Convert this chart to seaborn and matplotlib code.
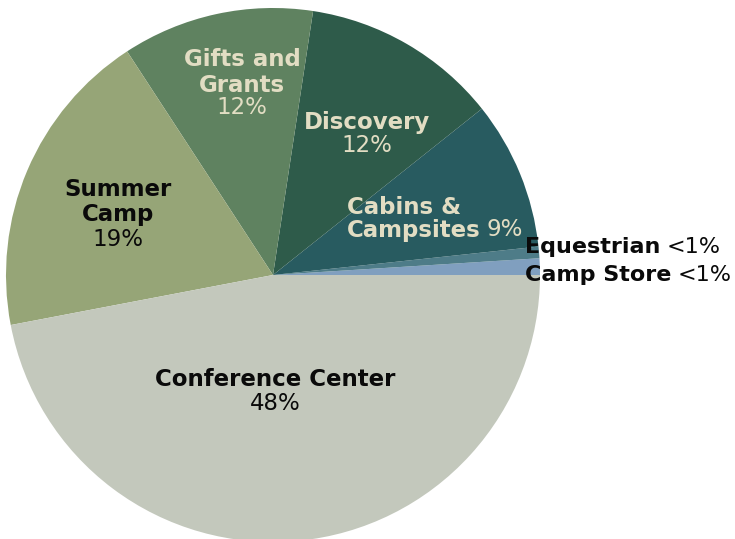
import matplotlib
matplotlib.use("Agg")
import matplotlib.pyplot as plt
import seaborn as sns

# slices, counter-clockwise from 3 o'clock
categories = ["Camp Store", "Equestrian", "Cabins & Campsites", "Discovery",
              "Gifts and Grants", "Summer Camp", "Conference Center"]
values = [1.0, 0.7, 9.0, 11.9, 11.6, 18.8, 47.0]
pct_labels = ["<1%", "<1%", "9%", "12%", "12%", "19%", "48%"]
colors = ["#809fbf", "#4e7c88", "#285b60", "#2e5b4a",
          "#5f8260", "#96a577", "#c3c8bc"]

sns.set_theme(style="white")
plt.rcParams['font.family'] = ['DejaVu Sans']

fig = plt.figure(figsize=(7.35, 5.39), dpi=100)
# pie centre (273, 275) px, radius 267 px
W, H = 735, 539
cx, cy, r = 273, 275, 267
ax = fig.add_axes([(cx - r) / W, (H - cy - r) / H, 2 * r / W, 2 * r / H])
ax.pie(values, colors=colors, startangle=0, counterclock=True, radius=1,
       wedgeprops=dict(linewidth=0))
ax.set_xlim(-1, 1)
ax.set_ylim(-1, 1)
ax.set_aspect('equal')
ax.axis('off')


def px(x, y):
    return (x - cx) / r, (cy - y) / r


cream = "#e2ddc3"
dark = "#0a0a0a"
BS, RS = 16.5, 16.5
bold = dict(fontsize=BS, fontweight='bold', ha='center', va='center')
reg = dict(fontsize=RS, ha='center', va='center')

# Gifts and Grants
ax.text(*px(242, 60), "Gifts and", color=cream, **bold)
ax.text(*px(242, 85), "Grants", color=cream, **bold)
ax.text(*px(242, 108), pct_labels[4], color=cream, **reg)
# Discovery
ax.text(*px(367, 122), "Discovery", color=cream, **bold)
ax.text(*px(367, 145), pct_labels[3], color=cream, **reg)
# Summer Camp
ax.text(*px(118, 190), "Summer", color=dark, **bold)
ax.text(*px(118, 214), "Camp", color=dark, **bold)
ax.text(*px(118, 239), pct_labels[5], color=dark, **reg)
# Conference Center
ax.text(*px(275, 380), "Conference Center", color=dark, **bold)
ax.text(*px(275, 404), pct_labels[6], color=dark, **reg)

# left-aligned labels with bold name + regular percent
pairs = [
    ((347, 207), "Cabins &", "", cream, BS, RS),
    ((347, 230), "Campsites", pct_labels[2], cream, BS, RS),
    ((525, 247), "Equestrian", pct_labels[1], dark, 16, 16),
    ((525, 275), "Camp Store", pct_labels[0], dark, 16, 16),
]
fig.canvas.draw()
renderer = fig.canvas.get_renderer()
gap = 6  # px between name and percent
for (x, y), name, pct, col, bs, rs in pairs:
    t = ax.text(*px(x, y), name, color=col, fontsize=bs, fontweight='bold',
                ha='left', va='center')
    if pct:
        bb = t.get_window_extent(renderer=renderer)
        x_end = ax.transData.inverted().transform((bb.x1 + gap, bb.y0))[0]
        ax.text(x_end, px(x, y)[1], pct, color=col, fontsize=rs,
                ha='left', va='center')

fig.savefig("out.png", dpi=100)
